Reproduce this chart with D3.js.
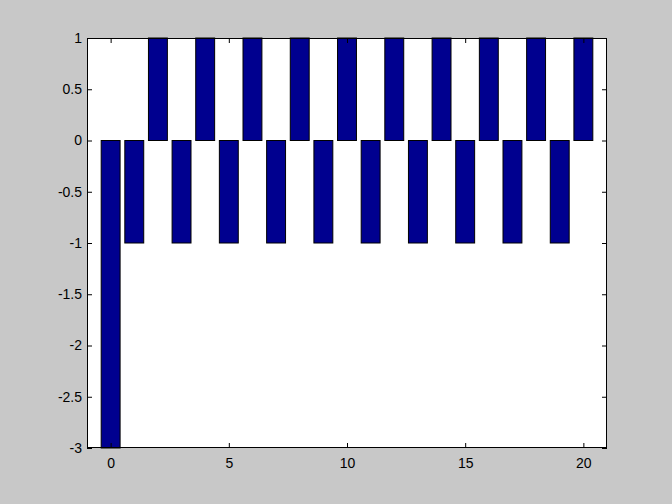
<!DOCTYPE html>
<html><head><meta charset="utf-8">
<script src="https://cdn.jsdelivr.net/npm/d3@7"></script>
<style>
html,body{margin:0;padding:0;background:#c8c8c8;}
svg{display:block;}
text{font-family:"Liberation Sans",Arial,sans-serif;font-size:14px;fill:#000;}
</style></head>
<body><svg id="c" width="672" height="504"></svg>
<script>
const xValues = [0,1,2,3,4,5,6,7,8,9,10,11,12,13,14,15,16,17,18,19,20];
const yValues = [-3,-1,1,-1,1,-1,1,-1,1,-1,1,-1,1,-1,1,-1,1,-1,1,-1,1];
const xTicks = [0,5,10,15,20];
const yTicks = [1,0.5,0,-0.5,-1,-1.5,-2,-2.5,-3];

const svg = d3.select("#c");
const L=87, R=607, T=38, B=448;
const x = d3.scaleLinear().domain([-1,21]).range([L,R]);
const y = d3.scaleLinear().domain([-3,1]).range([B,T]);
const barW = 0.8;

svg.append("rect").attr("x",L).attr("y",T).attr("width",R-L).attr("height",B-T).attr("fill","#fff");

svg.append("g").selectAll("rect").data(xValues).join("rect")
  .attr("x",(d)=>x(d-barW/2))
  .attr("width",(d)=>x(d+barW/2)-x(d-barW/2))
  .attr("y",(d,i)=>y(Math.max(0,yValues[i])))
  .attr("height",(d,i)=>Math.abs(y(yValues[i])-y(0)))
  .attr("fill","#00008f").attr("stroke","#000").attr("stroke-width",1);

const tl=5;
// bottom axis
const gB = svg.append("g").attr("transform",`translate(0,${B})`)
  .call(d3.axisBottom(x).tickValues(xTicks).tickSizeInner(-tl).tickSizeOuter(0).tickPadding(10).tickFormat(d3.format("d")));
const gT = svg.append("g").attr("transform",`translate(0,${T})`)
  .call(d3.axisTop(x).tickValues(xTicks).tickSizeInner(-tl).tickSizeOuter(0).tickFormat(""));
const gL = svg.append("g").attr("transform",`translate(${L},0)`)
  .call(d3.axisLeft(y).tickValues(yTicks).tickSizeInner(-tl).tickSizeOuter(0).tickPadding(5).tickFormat(d=>String(d)));
const gR = svg.append("g").attr("transform",`translate(${R},0)`)
  .call(d3.axisRight(y).tickValues(yTicks).tickSizeInner(-tl).tickSizeOuter(0).tickFormat(""));
[gB,gT,gL,gR].forEach(g=>{
  g.select(".domain").remove();
  g.selectAll("line").attr("stroke","#000");
  g.selectAll("text").attr("font-family","Liberation Sans, Arial, sans-serif").attr("font-size",14).attr("fill","#000");
});
svg.append("rect").attr("x",L+0.5).attr("y",T+0.5).attr("width",R-L-1).attr("height",B-T-1)
  .attr("fill","none").attr("stroke","#000").attr("stroke-width",1);
</script></body></html>
